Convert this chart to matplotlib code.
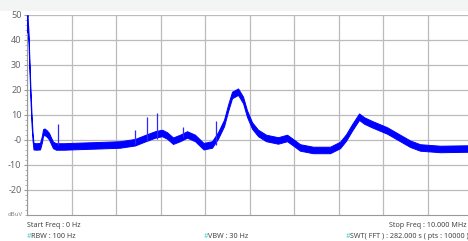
import matplotlib
matplotlib.use("Agg")
import matplotlib.pyplot as plt
from matplotlib.patches import Rectangle
from matplotlib.ticker import MultipleLocator

# spectrum trace: frequency (MHz), upper / lower edge of the noisy trace (dBuV)
freq = [0.000, 0.011, 0.034, 0.056, 0.079, 0.101, 0.124, 0.146, 0.202, 0.292, 0.337,
        0.360, 0.393, 0.449, 0.494, 0.539, 0.584, 0.652, 0.831, 1.124, 1.640, 2.090,
        2.427, 2.652, 2.876, 3.034, 3.146, 3.281, 3.438, 3.596, 3.775, 3.966, 4.157,
        4.292, 4.427, 4.517, 4.607, 4.742, 4.787, 4.854, 4.944, 5.056, 5.191, 5.371,
        5.640, 5.843, 6.000, 6.135, 6.427, 6.809, 7.034, 7.169, 7.303, 7.461, 7.573,
        7.753, 8.090, 8.382, 8.607, 8.831, 9.281, 10.000]
lvl_hi = [49.0, 50.0, 43.0, 31.0, 19.5, 10.5, 3.0, -1.2, -1.3, -1.2, 1.8,
          4.3, 4.6, 3.8, 2.8, 1.0, -0.7, -1.3, -1.3, -1.1, -0.8, -0.5,
          0.4, 2.0, 3.5, 4.1, 3.1, 1.0, 2.1, 3.5, 2.1, -1.2, -0.5,
          3.1, 8.1, 14.1, 19.3, 20.6, 19.3, 17.3, 11.8, 7.1, 4.1, 2.1,
          1.1, 2.1, 0.1, -1.7, -2.7, -2.7, -0.7, 2.3, 6.3, 10.6, 9.1,
          7.6, 5.1, 2.1, -0.2, -1.7, -2.3, -2.1]
lvl_lo = [43.0, 46.0, 39.0, 27.0, 15.5, 6.5, 0.0, -3.8, -3.9, -3.8, -0.8,
          1.7, 2.0, 1.2, 0.2, -1.6, -3.3, -3.9, -3.9, -3.7, -3.4, -3.1,
          -2.2, -0.6, 0.9, 1.5, 0.5, -1.6, -0.5, 0.9, -0.5, -3.8, -3.1,
          0.5, 5.5, 11.5, 16.7, 18.0, 16.7, 14.7, 9.2, 4.5, 1.5, -0.5,
          -1.5, -0.5, -2.5, -4.3, -5.3, -5.3, -3.3, -0.3, 3.7, 8.0, 6.5,
          5.0, 2.5, -0.5, -2.8, -4.3, -4.9, -4.7]

# isolated spurs standing above the noise: frequency (MHz), top level (dBuV)
spur_f = [0.697, 2.427, 2.697, 2.921, 3.506, 4.247]
spur_top = [6.5, 4.0, 9.0, 10.8, 5.0, 7.5]
spur_base = [-2.0, -1.5, -0.5, 0.5, 1.0, -2.0]

y_ticks = [50, 40, 30, 20, 10, 0, -10, -20]
y_labels = ["50", "40", "30", "20", "10", "-0", "-10", "-20"]

info_color = "#444444"
hash_color = "#4dd0c8"
trace_color = "#0000ff"

fig = plt.figure(figsize=(4.68, 2.41), dpi=100, facecolor="white")
fig.patches.append(Rectangle((0, 0.955), 1, 0.045, transform=fig.transFigure,
                             facecolor="#f3f4f4", edgecolor="none", zorder=0))

ax = fig.add_axes([0.0577, 0.108, 0.951, 0.830])
ax.set_xlim(0, 10)
ax.set_ylim(-30, 50)

ax.fill_between(freq, lvl_lo, lvl_hi, facecolor=trace_color, edgecolor=trace_color,
                linewidth=0.7, zorder=3)
ax.vlines(spur_f, spur_base, spur_top, color="#2a2aff", linewidth=0.9, zorder=3)

ax.set_xticks([i for i in range(11)])
ax.set_xticklabels([])
ax.set_yticks(y_ticks)
ax.set_yticklabels(y_labels, color="#666666", fontsize=6.5, family="Noto Sans")
ax.yaxis.set_minor_locator(MultipleLocator(2))
ax.tick_params(axis="x", length=0)
ax.tick_params(axis="y", which="major", length=2.5, color="#999999", pad=1.5)
ax.tick_params(axis="y", which="minor", length=1.5, color="#aaaaaa")
ax.grid(True, color="#bbbbbb", linewidth=0.9)
ax.set_axisbelow(True)
for side in ["top", "right"]:
    ax.spines[side].set_visible(False)
for side in ["left", "bottom"]:
    ax.spines[side].set_color("#999999")
    ax.spines[side].set_linewidth(0.8)

fig.text(0.017, 0.112, "dBuV", fontsize=4.3, color="#888888", family="Noto Sans", va="center")

fs = 5.2
fig.text(0.058, 0.066, "Start Freq : 0 Hz", fontsize=fs, color=info_color, family="Noto Sans", va="center")
fig.text(0.996, 0.066, "Stop Freq : 10.000 MHz", fontsize=fs, color=info_color, family="Noto Sans",
         va="center", ha="right")

row2 = 0.018
fig.text(0.058, row2, "#", fontsize=fs, color=hash_color, family="Noto Sans", va="center")
fig.text(0.067, row2, "RBW : 100 Hz", fontsize=fs, color=info_color, family="Noto Sans", va="center")
fig.text(0.435, row2, "#", fontsize=fs, color=hash_color, family="Noto Sans", va="center")
fig.text(0.444, row2, "VBW : 30 Hz", fontsize=fs, color=info_color, family="Noto Sans", va="center")
fig.text(0.738, row2, "#", fontsize=fs, color=hash_color, family="Noto Sans", va="center")
fig.text(0.747, row2, "SWT( FFT ) : 282.000 s ( pts : 10000 )", fontsize=fs, color=info_color,
         family="Noto Sans", va="center")

fig.savefig("out.png", dpi=100, facecolor=fig.get_facecolor())
